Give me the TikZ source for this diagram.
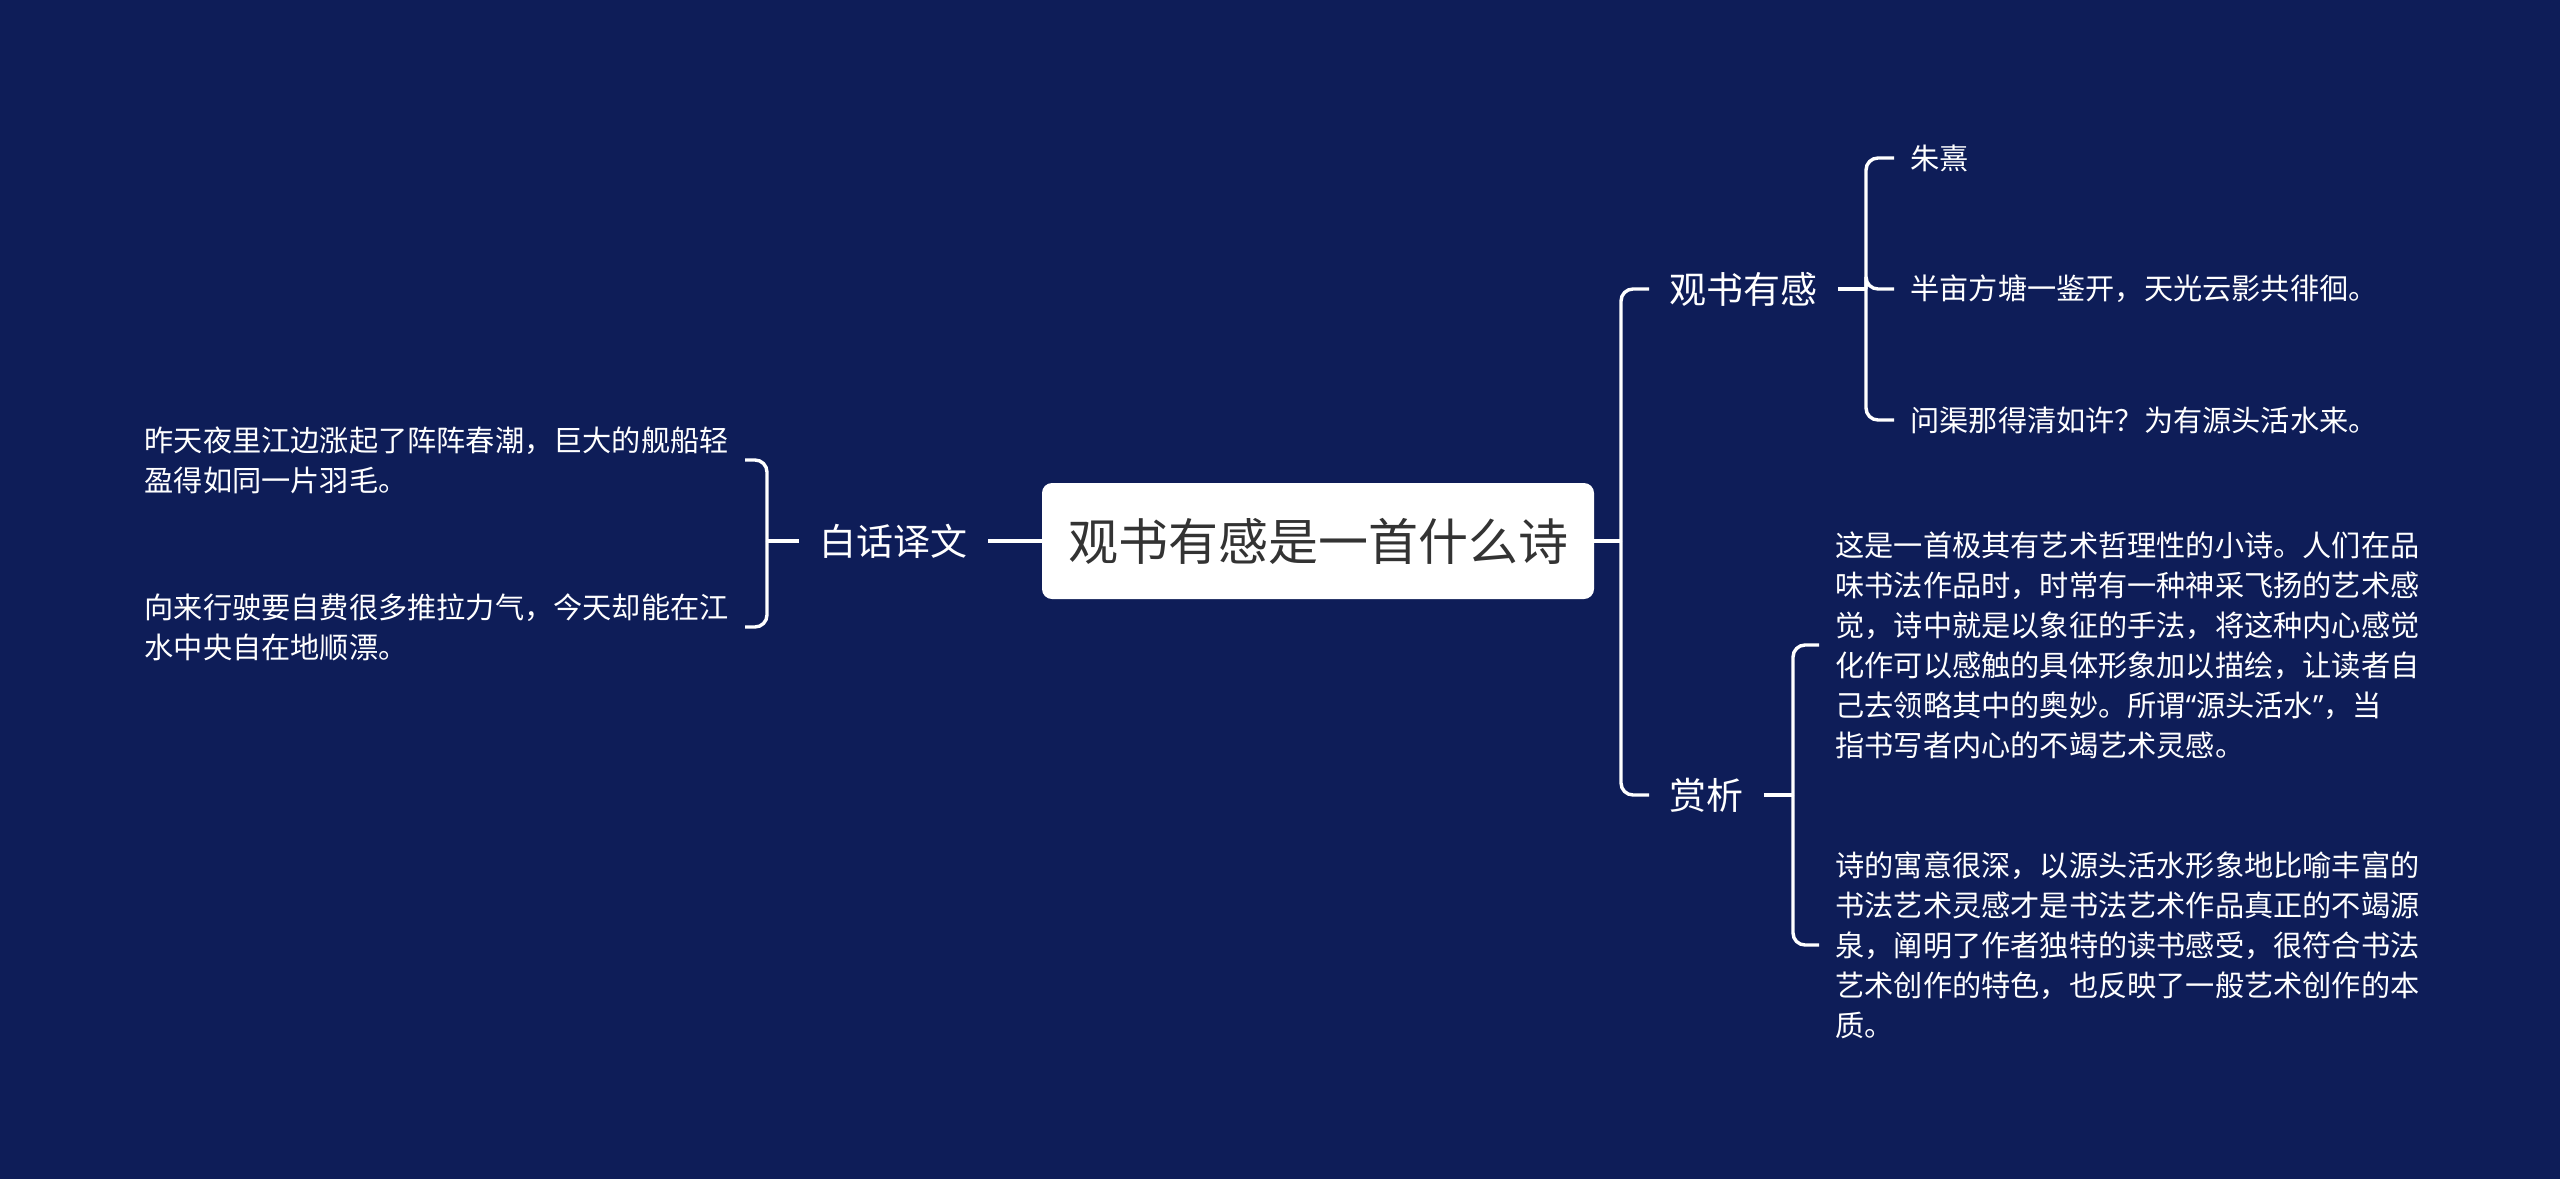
\documentclass[tikz,border=0pt]{standalone}
\usepackage{fontspec}
\setmainfont{Noto Sans CJK SC}
\newfontfamily\quotefont{Noto Sans}
\usetikzlibrary{positioning}
\definecolor{navy}{RGB}{14,29,88}
\definecolor{rootink}{RGB}{51,51,51}

\begin{document}
\begin{tikzpicture}[
    x=.5pt,y=-.5pt,
    root/.style={rectangle,rounded corners=5pt,fill=white,text=rootink,minimum width=276pt,minimum height=58pt,font=\fontsize{25}{30}\selectfont},
    topic/.style={text=white,inner xsep=10pt,inner ysep=2pt,font=\fontsize{18.5}{22}\selectfont},
    leaf/.style={text=white,align=left,inner xsep=8pt,inner ysep=0pt,font=\fontsize{14.6}{20}\selectfont},
    link/.style={draw=white,line width=1.7pt,rounded corners=6pt}
  ]
    \fill[navy] (0,0) rectangle (2560,1179);
    \node[root] (root) at (1318,541) {观书有感是一首什么诗};
    \node[topic,anchor=east] (yiwen) at (988,541) {白话译文};
    \node[topic,anchor=west] (guan) at (1649,289) {观书有感};
    \node[topic,anchor=west] (shang) at (1649,795) {赏析};
    \coordinate (jL) at (767,541); \coordinate (jR) at (1621,541);
    \coordinate (jG) at (1866,289); \coordinate (jS) at (1793,795);
    \node[leaf,anchor=east] (yw1) at (745,460) {昨天夜里江边涨起了阵阵春潮，巨大的舰船轻\\盈得如同一片羽毛。};
    \node[leaf,anchor=east] (yw2) at (745,627) {向来行驶要自费很多推拉力气，今天却能在江\\水中央自在地顺漂。};
    \node[leaf,anchor=west] (zhu) at (1894,158) {朱熹};
    \node[leaf,anchor=west] (ban) at (1894,289) {半亩方塘一鉴开，天光云影共徘徊。};
    \node[leaf,anchor=west] (wen) at (1894,420) {问渠那得清如许？为有源头活水来。};
    \node[leaf,anchor=west] (sx1) at (1819,645) {这是一首极其有艺术哲理性的小诗。人们在品\\味书法作品时，时常有一种神采飞扬的艺术感\\觉，诗中就是以象征的手法，将这种内心感觉\\化作可以感触的具体形象加以描绘，让读者自\\己去领略其中的奥妙。所谓{\quotefont“}源头活水{\quotefont”}，当\\指书写者内心的不竭艺术灵感。};
    \node[leaf,anchor=west] (sx2) at (1819,945) {诗的寓意很深，以源头活水形象地比喻丰富的\\书法艺术灵感才是书法艺术作品真正的不竭源\\泉，阐明了作者独特的读书感受，很符合书法\\艺术创作的特色，也反映了一般艺术创作的本\\质。};
    \draw[link] (root.west) -- (yiwen.east);
    \draw[link] (yiwen.west) -- (jL);
    \foreach \t in {yw1,yw2} {\draw[link] (jL) |- (\t.east);}
    \draw[link] (root.east) -- (jR);
    \foreach \t in {guan,shang} {\draw[link] (jR) |- (\t.west);}
    \draw[link] (guan.east) -- (jG);
    \foreach \t in {zhu,ban,wen} {\draw[link] (jG) |- (\t.west);}
    \draw[link] (shang.east) -- (jS);
    \foreach \t in {sx1,sx2} {\draw[link] (jS) |- (\t.west);}
  \end{tikzpicture}
\end{document}
